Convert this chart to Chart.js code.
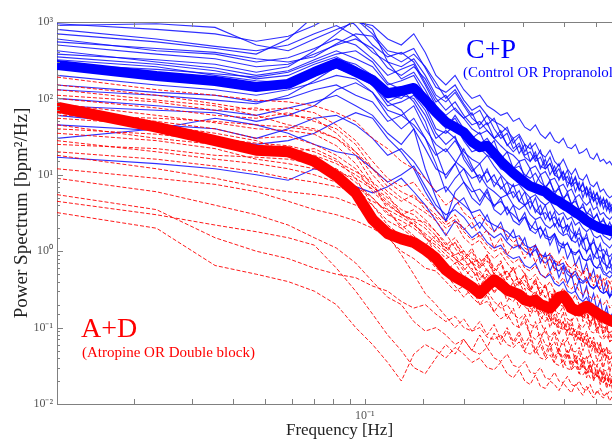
<!DOCTYPE html>
<html>
<head>
<meta charset="utf-8">
<script src="https://cdn.jsdelivr.net/npm/chart.js@4.4.1/dist/chart.umd.min.js"></script>
<style>
  html, body { margin: 0; padding: 0; overflow: hidden; background: #fff; }
  canvas { display: block; }
</style>
</head>
<body>
<canvas id="psd" width="640" height="441"></canvas>
<script>
// frequency bins (Hz)
const freqs = [0.0117, 0.0234, 0.0352, 0.0469, 0.0586, 0.0703, 0.0820, 0.0938, 0.1055, 0.1172, 0.1289, 0.1406,
  0.1523, 0.1641, 0.1758, 0.1875, 0.1992, 0.2109, 0.2227, 0.2344, 0.2461, 0.2578, 0.2695, 0.2813,
  0.2930, 0.3047, 0.3164, 0.3281, 0.3398, 0.3516, 0.3633, 0.3750, 0.3867, 0.3984, 0.4102, 0.4219,
  0.4336, 0.4453, 0.4570, 0.4688, 0.4805, 0.4922, 0.5039, 0.5156, 0.5273, 0.5391, 0.5508, 0.5625];

// group averages
const cpMean = [273, 196, 169, 141, 155, 222, 290, 222, 174, 117, 125, 137,
  95, 66, 49, 42, 36, 27, 23, 24, 19, 15, 12.5, 10.5,
  9.1, 8.0, 7.1, 6.7, 6.3, 6.0, 5.3, 4.8, 4.5, 4.1, 3.8, 3.5,
  3.2, 3.0, 2.75, 2.5, 2.35, 2.2, 2.1, 2.0, 1.95, 1.9, 1.85, 1.8];
const adMean = [77, 42, 28, 21, 20, 15, 9.7, 5.8, 2.6, 1.7, 1.45, 1.3,
  1.04, 0.81, 0.57, 0.46, 0.40, 0.34, 0.28, 0.35, 0.42, 0.37, 0.31, 0.29,
  0.27, 0.23, 0.22, 0.23, 0.20, 0.19, 0.18, 0.21, 0.25, 0.26, 0.22, 0.18,
  0.17, 0.165, 0.18, 0.19, 0.18, 0.165, 0.155, 0.145, 0.138, 0.13, 0.125, 0.12];

// C+P subjects
const cp01 = [950, 800, 700, 560, 650, 900, 1300, 1100, 700, 420, 380, 450,
  250, 140, 120, 150, 95, 70, 80, 60, 50, 45, 38, 30,
  34, 25, 22, 26, 19, 17, 21, 15, 13, 16, 12, 10,
  12, 9, 8.5, 10, 7.5, 7, 8, 6, 6.5, 5.5, 5, 5.4];
const cp02 = [800, 600, 480, 420, 500, 700, 900, 650, 400, 300, 260, 330,
  200, 110, 90, 120, 80, 55, 45, 60, 40, 30, 35, 22,
  26, 18, 20, 15, 17, 12, 14, 10, 12, 8.5, 9.5, 7,
  8, 6.5, 7.5, 5.5, 6, 4.5, 5, 4.2, 4.8, 3.8, 3.5, 3.9];
const cp03 = [600, 420, 380, 300, 340, 450, 600, 500, 330, 200, 240, 280,
  150, 80, 60, 75, 55, 40, 34, 38, 30, 24, 20, 18,
  15, 16, 12, 13, 10, 11, 8.5, 9, 7, 7.5, 6, 6.5,
  5, 5.5, 4.5, 4, 4.5, 3.5, 3.8, 3, 3.2, 2.8, 2.6, 2.9];
const cp04 = [420, 300, 250, 200, 230, 320, 420, 330, 260, 150, 170, 200,
  110, 60, 45, 55, 35, 28, 25, 30, 22, 17, 14, 12,
  13, 10, 9, 10.5, 8, 7, 8, 6, 6.5, 5, 5.5, 4.2,
  4.5, 3.6, 3.8, 3.2, 3, 2.7, 3, 2.4, 2.5, 2.2, 2, 2.3];
const cp05 = [320, 260, 200, 170, 160, 250, 330, 280, 200, 110, 100, 140,
  80, 40, 35, 45, 28, 20, 22, 18, 16, 12, 11, 9,
  8, 8.5, 7, 6, 6.5, 5, 5.5, 4.2, 4.5, 3.5, 3.8, 3,
  3.2, 2.6, 2.8, 2.3, 2.1, 2, 1.8, 1.9, 1.6, 1.5, 1.4, 1.6];
const cp06 = [250, 220, 190, 150, 140, 200, 250, 200, 150, 90, 110, 100,
  60, 30, 38, 30, 20, 16, 14, 18, 13, 10, 8, 7,
  7.5, 6, 5, 5.5, 4.5, 4, 4.5, 3.5, 3, 3.2, 2.6, 2.8,
  2.2, 2.4, 2, 1.8, 2, 1.6, 1.5, 1.6, 1.3, 1.2, 1.1, 1.25];
const cp07 = [200, 150, 130, 110, 130, 160, 200, 180, 120, 70, 60, 80,
  40, 25, 20, 28, 18, 12, 9, 11, 8, 7, 5.5, 6,
  4.5, 4, 4.5, 3.5, 3, 3.2, 2.6, 2.8, 2.2, 2, 2.2, 1.8,
  1.6, 1.7, 1.4, 1.5, 1.2, 1.3, 1.1, 1, 1.05, 0.9, 0.85, 0.95];
const cp08 = [150, 120, 110, 90, 100, 130, 150, 110, 90, 50, 60, 45,
  30, 18, 22, 15, 12, 9, 10, 7, 6, 5, 5.5, 4,
  3.5, 4, 3, 2.6, 2.8, 2.2, 2, 2.3, 1.8, 1.6, 1.7, 1.4,
  1.3, 1.5, 1.1, 1, 1.1, 0.9, 0.8, 0.85, 0.7, 0.65, 0.6, 0.7];
const cp09 = [100, 80, 70, 60, 75, 90, 110, 80, 60, 35, 25, 40,
  22, 12, 10, 14, 8, 6, 6.5, 5, 4, 4.5, 3.5, 3,
  2.5, 2.8, 2.2, 1.9, 2, 1.6, 1.5, 1.7, 1.3, 1.2, 1.25, 1,
  0.95, 1, 0.8, 0.75, 0.8, 0.65, 0.6, 0.62, 0.5, 0.48, 0.45, 0.5];
const cp10 = [60, 45, 40, 30, 40, 55, 60, 45, 30, 18, 22, 15,
  9, 6, 7, 5, 4, 3.2, 3.5, 2.5, 2.2, 2, 1.8, 1.5,
  1.6, 1.2, 1.1, 1.2, 0.9, 0.85, 0.9, 0.7, 0.65, 0.7, 0.55, 0.5,
  0.55, 0.45, 0.4, 0.45, 0.35, 0.33, 0.36, 0.3, 0.28, 0.3, 0.25, 0.28];
const cp11 = [17, 14, 12, 10, 8.5, 12, 10, 7, 5.8, 7, 9, 6,
  4, 2.5, 1.6, 2.5, 2, 1.5, 1.8, 1.3, 1.1, 1.2, 0.9, 0.8,
  0.85, 0.65, 0.6, 0.7, 0.5, 0.45, 0.5, 0.38, 0.35, 0.4, 0.3, 0.28,
  0.3, 0.24, 0.22, 0.25, 0.2, 0.18, 0.19, 0.16, 0.15, 0.16, 0.14, 0.15];
const cp12 = [900, 950, 850, 500, 420, 600, 800, 1000, 900, 600, 500, 700,
  400, 200, 150, 200, 130, 100, 110, 80, 70, 60, 65, 50,
  55, 42, 38, 45, 34, 30, 36, 28, 26, 30, 23, 22,
  25, 19, 20, 22, 17, 16, 19, 15, 16, 14, 15, 13];
const cp13 = [350, 280, 230, 180, 200, 280, 350, 260, 180, 90, 70, 40,
  12, 5, 2.5, 6, 8, 5, 4, 6, 3.5, 3, 3.8, 2.5,
  2.2, 2.8, 1.9, 1.7, 2.1, 1.5, 1.4, 1.7, 1.2, 1.1, 1.3, 0.95,
  0.9, 1.05, 0.8, 0.75, 0.9, 0.65, 0.6, 0.7, 0.55, 0.5, 0.55, 0.5];
const cp14 = [500, 380, 330, 260, 280, 380, 500, 600, 450, 250, 200, 260,
  180, 100, 70, 90, 60, 45, 50, 38, 30, 34, 25, 20,
  24, 17, 15, 18, 13, 12, 14, 10, 9, 11, 8, 7.5,
  9, 6.5, 6, 7, 5.2, 5, 5.8, 4.5, 4.2, 4.8, 3.8, 4.2];
const cp15 = [30, 40, 55, 45, 35, 25, 20, 18, 12, 8, 10, 13,
  7, 4, 3, 3.5, 2.8, 2, 2.4, 1.8, 1.5, 1.7, 1.3, 1.1,
  1.2, 1, 0.9, 1.05, 0.8, 0.7, 0.8, 0.6, 0.55, 0.65, 0.5, 0.45,
  0.5, 0.4, 0.38, 0.42, 0.35, 0.32, 0.36, 0.3, 0.28, 0.3, 0.26, 0.28];
const cp16 = [700, 550, 450, 380, 600, 1200, 1500, 900, 500, 350, 400, 300,
  160, 90, 110, 70, 55, 65, 40, 48, 30, 38, 24, 30,
  19, 25, 15, 20, 12, 16, 10, 13, 8.5, 11, 7, 9.5,
  6, 8, 5, 6.8, 4.5, 6, 4, 5.2, 3.6, 4.6, 3.2, 4];
const cp17 = [380, 320, 280, 220, 260, 420, 700, 1100, 800, 300, 180, 220,
  130, 70, 40, 60, 40, 30, 36, 22, 28, 16, 20, 12,
  15, 9, 12, 7.5, 10, 6.5, 8.5, 5.5, 7, 4.6, 6, 4,
  5, 3.4, 4.2, 3, 3.6, 2.6, 3.1, 2.3, 2.7, 2, 2.4, 1.9];
const cp18 = [280, 240, 210, 190, 220, 300, 380, 420, 300, 160, 130, 90,
  50, 20, 9, 14, 22, 13, 8, 12, 7, 9.5, 5.5, 7.5,
  4.5, 6, 3.6, 5, 3, 4, 2.5, 3.3, 2.1, 2.8, 1.8, 2.4,
  1.5, 2, 1.3, 1.7, 1.1, 1.45, 0.95, 1.25, 0.8, 1.05, 0.7, 0.9];
const cp19 = [130, 110, 95, 85, 110, 170, 260, 230, 150, 80, 90, 110,
  70, 35, 25, 32, 16, 11, 14, 8, 10, 6.5, 8, 5,
  6.2, 4, 5, 3.2, 4, 2.6, 3.3, 2.1, 2.7, 1.7, 2.2, 1.4,
  1.8, 1.15, 1.5, 0.95, 1.25, 0.8, 1.05, 0.68, 0.9, 0.58, 0.75, 0.5];
const cp20 = [80, 70, 65, 50, 60, 80, 130, 160, 120, 60, 40, 55,
  30, 14, 6, 9, 12, 7, 4.5, 6.5, 3.8, 5, 3, 4,
  2.4, 3.2, 1.9, 2.5, 1.5, 2, 1.2, 1.6, 0.95, 1.3, 0.8, 1.05,
  0.65, 0.85, 0.52, 0.7, 0.43, 0.58, 0.36, 0.48, 0.3, 0.4, 0.25, 0.33];
const cp21 = [550, 450, 400, 330, 300, 350, 520, 700, 650, 380, 300, 380,
  260, 160, 100, 130, 85, 60, 70, 45, 55, 35, 42, 26,
  32, 20, 26, 16, 21, 13, 17, 11, 14, 9, 11.5, 7.5,
  9.5, 6.2, 8, 5.2, 6.8, 4.5, 5.8, 3.9, 5, 3.4, 4.3, 3];
const cp22 = [45, 38, 30, 25, 28, 35, 50, 65, 55, 30, 20, 12,
  6, 3.5, 2.5, 4, 5, 3, 2, 3, 1.8, 2.4, 1.4, 1.9,
  1.1, 1.5, 0.85, 1.2, 0.7, 0.95, 0.55, 0.75, 0.45, 0.62, 0.38, 0.5,
  0.3, 0.42, 0.25, 0.35, 0.2, 0.28, 0.17, 0.23, 0.14, 0.19, 0.12, 0.16];

// A+D subjects
const ad01 = [190, 130, 110, 95, 90, 80, 65, 50, 30, 22, 15, 12,
  9, 6, 4, 5, 3.2, 2.6, 3, 2.2, 1.8, 2.1, 1.6, 1.3,
  1.5, 1.1, 1.0, 1.2, 0.9, 0.8, 0.95, 0.75, 0.7, 0.85, 0.65, 0.6,
  0.7, 0.55, 0.5, 0.6, 0.48, 0.45, 0.5, 0.42, 0.4, 0.45, 0.38, 0.42];
const ad02 = [110, 90, 70, 75, 60, 55, 35, 20, 10, 6, 4.5, 5.5,
  3.5, 2.8, 2, 2.4, 1.5, 1.2, 1.4, 1, 0.8, 0.95, 0.7, 0.55,
  0.65, 0.5, 0.42, 0.5, 0.38, 0.33, 0.4, 0.3, 0.27, 0.33, 0.25, 0.22,
  0.27, 0.2, 0.18, 0.22, 0.16, 0.15, 0.18, 0.14, 0.12, 0.14, 0.11, 0.13];
const ad03 = [70, 50, 40, 30, 32, 25, 18, 12, 6, 4, 3, 3.5,
  2.6, 1.8, 1.2, 1.5, 1, 0.8, 0.7, 0.9, 0.6, 0.5, 0.55, 0.4,
  0.45, 0.35, 0.3, 0.38, 0.28, 0.25, 0.3, 0.22, 0.2, 0.24, 0.18, 0.17,
  0.2, 0.15, 0.14, 0.16, 0.12, 0.11, 0.13, 0.1, 0.09, 0.1, 0.085, 0.095];
const ad04 = [55, 45, 35, 28, 20, 22, 16, 9, 4, 2.5, 2, 2.4,
  1.5, 1.1, 0.8, 0.9, 0.6, 0.45, 0.55, 0.4, 0.3, 0.35, 0.25, 0.22,
  0.28, 0.19, 0.16, 0.2, 0.14, 0.12, 0.15, 0.11, 0.1, 0.12, 0.085, 0.08,
  0.095, 0.07, 0.065, 0.08, 0.06, 0.055, 0.065, 0.05, 0.048, 0.055, 0.045, 0.05];
const ad05 = [45, 30, 25, 22, 20, 18, 14, 10, 7, 5, 3.5, 3,
  2.2, 1.6, 1.1, 1.3, 0.9, 0.7, 0.8, 0.55, 0.45, 0.5, 0.38, 0.32,
  0.4, 0.28, 0.25, 0.3, 0.22, 0.19, 0.24, 0.17, 0.15, 0.19, 0.13, 0.12,
  0.15, 0.11, 0.1, 0.12, 0.09, 0.085, 0.1, 0.075, 0.07, 0.08, 0.065, 0.07];
const ad06 = [35, 28, 22, 16, 14, 12, 10, 7, 5, 3, 2.5, 2,
  1.5, 1.2, 0.9, 0.7, 0.8, 0.55, 0.45, 0.5, 0.35, 0.3, 0.35, 0.25,
  0.22, 0.26, 0.18, 0.16, 0.2, 0.14, 0.12, 0.15, 0.1, 0.095, 0.12, 0.08,
  0.075, 0.09, 0.065, 0.06, 0.075, 0.055, 0.05, 0.06, 0.045, 0.042, 0.05, 0.045];
const ad07 = [28, 20, 16, 14, 12, 10, 8, 6, 4.5, 3.5, 2.8, 2.2,
  1.7, 1.3, 1, 0.8, 0.65, 0.7, 0.5, 0.4, 0.45, 0.33, 0.28, 0.32,
  0.24, 0.2, 0.24, 0.17, 0.15, 0.18, 0.13, 0.11, 0.13, 0.1, 0.09, 0.11,
  0.08, 0.07, 0.085, 0.06, 0.055, 0.065, 0.05, 0.045, 0.055, 0.04, 0.038, 0.042];
const ad08 = [20, 16, 13, 11, 9, 8, 7, 6, 4, 2.2, 1.6, 1.2,
  0.9, 0.6, 0.5, 0.4, 0.45, 0.32, 0.26, 0.3, 0.22, 0.18, 0.2, 0.15,
  0.13, 0.15, 0.11, 0.1, 0.12, 0.085, 0.075, 0.09, 0.065, 0.06, 0.07, 0.05,
  0.048, 0.055, 0.04, 0.038, 0.045, 0.034, 0.032, 0.038, 0.028, 0.027, 0.03, 0.028];
const ad09 = [12, 9, 7.5, 6, 4.5, 3.5, 3, 2.5, 2, 1.5, 1, 0.8,
  0.6, 0.55, 0.4, 0.3, 0.35, 0.25, 0.2, 0.22, 0.16, 0.13, 0.15, 0.11,
  0.1, 0.12, 0.08, 0.07, 0.085, 0.06, 0.055, 0.065, 0.045, 0.042, 0.05, 0.036,
  0.034, 0.04, 0.03, 0.028, 0.033, 0.025, 0.024, 0.028, 0.022, 0.021, 0.024, 0.022];
const ad10 = [5.5, 3.5, 1.5, 1, 0.8, 0.6, 0.5, 0.45, 0.35, 0.3, 0.22, 0.18,
  0.2, 0.15, 0.12, 0.14, 0.1, 0.09, 0.1, 0.075, 0.07, 0.08, 0.06, 0.055,
  0.065, 0.048, 0.045, 0.052, 0.04, 0.038, 0.044, 0.034, 0.032, 0.037, 0.029, 0.028,
  0.032, 0.025, 0.024, 0.028, 0.022, 0.021, 0.024, 0.02, 0.019, 0.022, 0.018, 0.02];
const ad11 = [3.2, 2, 0.65, 0.5, 0.4, 0.3, 0.2, 0.1, 0.06, 0.035, 0.02, 0.045,
  0.06, 0.05, 0.04, 0.055, 0.045, 0.035, 0.04, 0.03, 0.028, 0.035, 0.025, 0.022,
  0.028, 0.02, 0.018, 0.024, 0.017, 0.016, 0.02, 0.018, 0.015, 0.019, 0.016, 0.014,
  0.018, 0.015, 0.013, 0.017, 0.014, 0.012, 0.015, 0.013, 0.012, 0.014, 0.011, 0.013];
const ad12 = [9, 6, 4, 3, 2.2, 1.5, 1.1, 0.7, 0.4, 0.25, 0.2, 0.12,
  0.09, 0.1, 0.08, 0.06, 0.07, 0.05, 0.045, 0.055, 0.04, 0.036, 0.045, 0.032,
  0.03, 0.036, 0.026, 0.025, 0.03, 0.022, 0.021, 0.026, 0.02, 0.019, 0.023, 0.018,
  0.017, 0.02, 0.016, 0.015, 0.018, 0.014, 0.014, 0.016, 0.013, 0.013, 0.015, 0.014];
const ad13 = [65, 40, 30, 26, 24, 20, 15, 11, 8, 5.5, 3, 2.5,
  2, 1.4, 1.1, 0.9, 1, 0.7, 0.6, 0.75, 0.5, 0.45, 0.55, 0.4,
  0.35, 0.42, 0.3, 0.28, 0.34, 0.25, 0.23, 0.28, 0.2, 0.19, 0.23, 0.17,
  0.16, 0.19, 0.14, 0.13, 0.16, 0.12, 0.11, 0.13, 0.1, 0.1, 0.11, 0.1];
const ad14 = [100, 75, 60, 55, 65, 50, 40, 25, 12, 8, 6, 5,
  4, 3, 2.2, 2.6, 1.8, 1.4, 1.6, 1.2, 1, 1.1, 0.85, 0.7,
  0.8, 0.6, 0.55, 0.65, 0.5, 0.45, 0.55, 0.42, 0.38, 0.45, 0.35, 0.32,
  0.38, 0.3, 0.27, 0.32, 0.25, 0.23, 0.27, 0.21, 0.2, 0.23, 0.18, 0.2];
const ad15 = [150, 110, 85, 70, 75, 65, 45, 28, 15, 9, 7, 8,
  5, 3.5, 2.4, 3, 1.9, 2.4, 1.5, 1.9, 1.1, 1.5, 0.9, 1.2,
  1.2, 0.8, 1.1, 0.7, 0.95, 0.6, 0.85, 0.55, 0.75, 0.5, 0.68, 0.45,
  0.6, 0.42, 0.56, 0.38, 0.52, 0.35, 0.48, 0.32, 0.44, 0.3, 0.4, 0.28];
const ad16 = [85, 60, 48, 40, 38, 34, 24, 14, 7, 4.5, 3.2, 2.2,
  1.6, 0.9, 0.55, 0.7, 0.45, 0.6, 0.35, 0.48, 0.28, 0.38, 0.22, 0.3,
  0.18, 0.25, 0.14, 0.2, 0.12, 0.17, 0.1, 0.14, 0.08, 0.12, 0.07, 0.1,
  0.06, 0.085, 0.05, 0.07, 0.042, 0.06, 0.036, 0.05, 0.03, 0.044, 0.026, 0.036];
const ad17 = [40, 34, 28, 24, 18, 15, 12, 8, 5, 3.2, 2.2, 1.6,
  1.1, 0.75, 0.5, 0.35, 0.25, 0.33, 0.2, 0.27, 0.16, 0.22, 0.13, 0.18,
  0.1, 0.14, 0.08, 0.12, 0.07, 0.1, 0.06, 0.085, 0.05, 0.07, 0.042, 0.06,
  0.035, 0.05, 0.03, 0.042, 0.026, 0.036, 0.022, 0.03, 0.019, 0.026, 0.017, 0.022];
const ad18 = [25, 22, 18, 17, 16, 14, 11, 9, 6.5, 4.2, 3, 2.6,
  2.4, 1.8, 1.3, 0.8, 0.55, 0.75, 0.42, 0.6, 0.35, 0.5, 0.28, 0.4,
  0.23, 0.33, 0.19, 0.27, 0.16, 0.22, 0.13, 0.19, 0.11, 0.16, 0.09, 0.13,
  0.075, 0.11, 0.065, 0.09, 0.055, 0.075, 0.046, 0.065, 0.04, 0.055, 0.034, 0.046];
const ad19 = [4.5, 3, 2.2, 1.8, 1.5, 1.2, 0.6, 0.3, 0.15, 0.08, 0.05, 0.03,
  0.025, 0.04, 0.06, 0.045, 0.07, 0.05, 0.08, 0.055, 0.085, 0.06, 0.09, 0.06,
  0.08, 0.05, 0.07, 0.045, 0.06, 0.04, 0.055, 0.035, 0.05, 0.03, 0.045, 0.028,
  0.04, 0.025, 0.036, 0.022, 0.032, 0.02, 0.028, 0.018, 0.025, 0.016, 0.022, 0.015];
const ad20 = [18, 12, 9, 7, 6, 5.5, 5, 4, 2.8, 1.6, 0.9, 0.5,
  0.28, 0.2, 0.14, 0.1, 0.13, 0.09, 0.12, 0.08, 0.11, 0.07, 0.1, 0.065,
  0.09, 0.06, 0.08, 0.05, 0.07, 0.045, 0.062, 0.04, 0.055, 0.036, 0.05, 0.032,
  0.045, 0.028, 0.04, 0.025, 0.036, 0.022, 0.032, 0.02, 0.028, 0.018, 0.025, 0.017];
const ad21 = [60, 55, 50, 45, 42, 38, 30, 20, 12, 7, 5, 4,
  3.2, 2.5, 1.7, 1.1, 0.75, 1, 0.6, 0.85, 0.5, 0.7, 0.42, 0.6,
  0.36, 0.5, 0.3, 0.42, 0.26, 0.36, 0.22, 0.3, 0.19, 0.26, 0.16, 0.22,
  0.14, 0.19, 0.12, 0.16, 0.1, 0.14, 0.085, 0.12, 0.075, 0.1, 0.065, 0.085];
const ad22 = [130, 95, 80, 60, 45, 40, 30, 18, 8, 3.5, 2, 1.5,
  1.2, 1.6, 1, 1.3, 0.8, 1.1, 0.65, 0.9, 0.55, 0.75, 0.45, 0.62,
  0.38, 0.52, 0.32, 0.44, 0.27, 0.37, 0.23, 0.31, 0.2, 0.27, 0.17, 0.23,
  0.15, 0.2, 0.13, 0.17, 0.11, 0.15, 0.095, 0.13, 0.085, 0.11, 0.075, 0.095];

const cpRuns = [cp01, cp02, cp03, cp04, cp05, cp06, cp07, cp08, cp09, cp10, cp11,
  cp12, cp13, cp14, cp15, cp16, cp17, cp18, cp19, cp20, cp21, cp22];
const adRuns = [ad01, ad02, ad03, ad04, ad05, ad06, ad07, ad08, ad09, ad10, ad11,
  ad12, ad13, ad14, ad15, ad16, ad17, ad18, ad19, ad20, ad21, ad22];

const serif = '"Liberation Serif", "Times New Roman", serif';
const toPoints = arr => freqs.map((f, i) => ({ x: f, y: arr[i] }));

const datasets = [];
cpRuns.forEach(r => datasets.push({
  data: toPoints(r), borderColor: 'rgba(10,10,255,0.85)', borderWidth: 1.1, order: 4
}));
adRuns.forEach(r => datasets.push({
  data: toPoints(r), borderColor: 'rgba(255,0,0,0.9)', borderWidth: 1, borderDash: [4, 2], order: 3
}));
datasets.push({ data: toPoints(cpMean), borderColor: '#0000ff', borderWidth: 10, borderJoinStyle: 'round', borderCapStyle: 'round', order: 2 });
datasets.push({ data: toPoints(adMean), borderColor: '#ff0000', borderWidth: 11, borderJoinStyle: 'round', borderCapStyle: 'round', order: 1 });

const supChars = { '-': '\u207B', '0': '\u2070', '1': '\u00B9', '2': '\u00B2', '3': '\u00B3' };
function decadeLabel(v) {
  const e = Math.round(Math.log10(v));
  if (Math.abs(Math.log10(v) - e) > 1e-6) return '';
  return '10' + String(e).split('').map(c => supChars[c] || c).join('');
}

// inward tick marks and the top frame line, MATLAB style
const frame = {
  id: 'frame',
  afterDraw(chart) {
    const { ctx, chartArea: a, scales: { x, y } } = chart;
    ctx.save();
    ctx.strokeStyle = '#808080';
    ctx.lineWidth = 1;
    ctx.beginPath();
    ctx.moveTo(a.left, a.top + 0.5);
    ctx.lineTo(a.right, a.top + 0.5);
    y.ticks.forEach(t => {
      const p = Math.round(y.getPixelForValue(t.value)) + 0.5;
      if (p < a.top + 2 || p > a.bottom - 2) return;
      const len = t.major ? 6 : 3;
      ctx.moveTo(a.left, p);
      ctx.lineTo(a.left + len, p);
    });
    x.ticks.forEach(t => {
      const p = Math.round(x.getPixelForValue(t.value)) + 0.5;
      if (p < a.left + 2 || p > a.right - 2) return;
      ctx.moveTo(p, a.bottom);
      ctx.lineTo(p, a.bottom - 5);
      ctx.moveTo(p, a.top);
      ctx.lineTo(p, a.top + 5);
    });
    ctx.stroke();
    ctx.restore();
  }
};

const groupNotes = {
  id: 'groupNotes',
  afterDatasetsDraw(chart) {
    const ctx = chart.ctx;
    ctx.save();
    ctx.textAlign = 'left';
    ctx.textBaseline = 'alphabetic';
    ctx.fillStyle = '#0000ff';
    ctx.font = '28px ' + serif;
    ctx.fillText('C+P', 466, 58);
    ctx.font = '15px ' + serif;
    ctx.fillText('(Control OR Propranolol)', 463, 77);
    ctx.fillStyle = '#ff0000';
    ctx.font = '28px ' + serif;
    ctx.fillText('A+D', 81, 337);
    ctx.font = '15px ' + serif;
    ctx.fillText('(Atropine OR Double block)', 82, 357);
    ctx.restore();
  }
};

new Chart(document.getElementById('psd'), {
  type: 'line',
  data: { datasets },
  options: {
    responsive: false,
    animation: false,
    events: [],
    layout: { padding: { top: 22, right: 18, left: 0, bottom: 0 } },
    elements: { point: { radius: 0 }, line: { tension: 0 } },
    plugins: { legend: { display: false }, tooltip: { enabled: false } },
    scales: {
      x: {
        type: 'logarithmic', min: 0.0117, max: 0.6,
        afterFit: s => { s.height = 37; },
        grid: { display: false, drawTicks: false },
        border: { display: true, color: '#808080' },
        ticks: { autoSkip: false, maxRotation: 0, padding: 5, color: '#555',
          font: { family: serif, size: 12 }, callback: v => decadeLabel(v) },
        title: { display: true, text: 'Frequency [Hz]', color: '#222',
          font: { family: serif, size: 17 }, padding: { top: 0, bottom: 0 } }
      },
      y: {
        type: 'logarithmic', min: 0.01, max: 1000,
        afterFit: s => { s.width = 57; },
        grid: { display: false, drawTicks: false },
        border: { display: true, color: '#808080' },
        ticks: { autoSkip: false, padding: 4, color: '#555',
          font: { family: serif, size: 12 }, callback: v => decadeLabel(v) },
        title: { display: true, text: 'Power Spectrum [bpm\u00B2/Hz]', color: '#222',
          font: { family: serif, size: 19 }, padding: { top: 11, bottom: 0 } }
      }
    }
  },
  plugins: [frame, groupNotes]
});
</script>
</body>
</html>
